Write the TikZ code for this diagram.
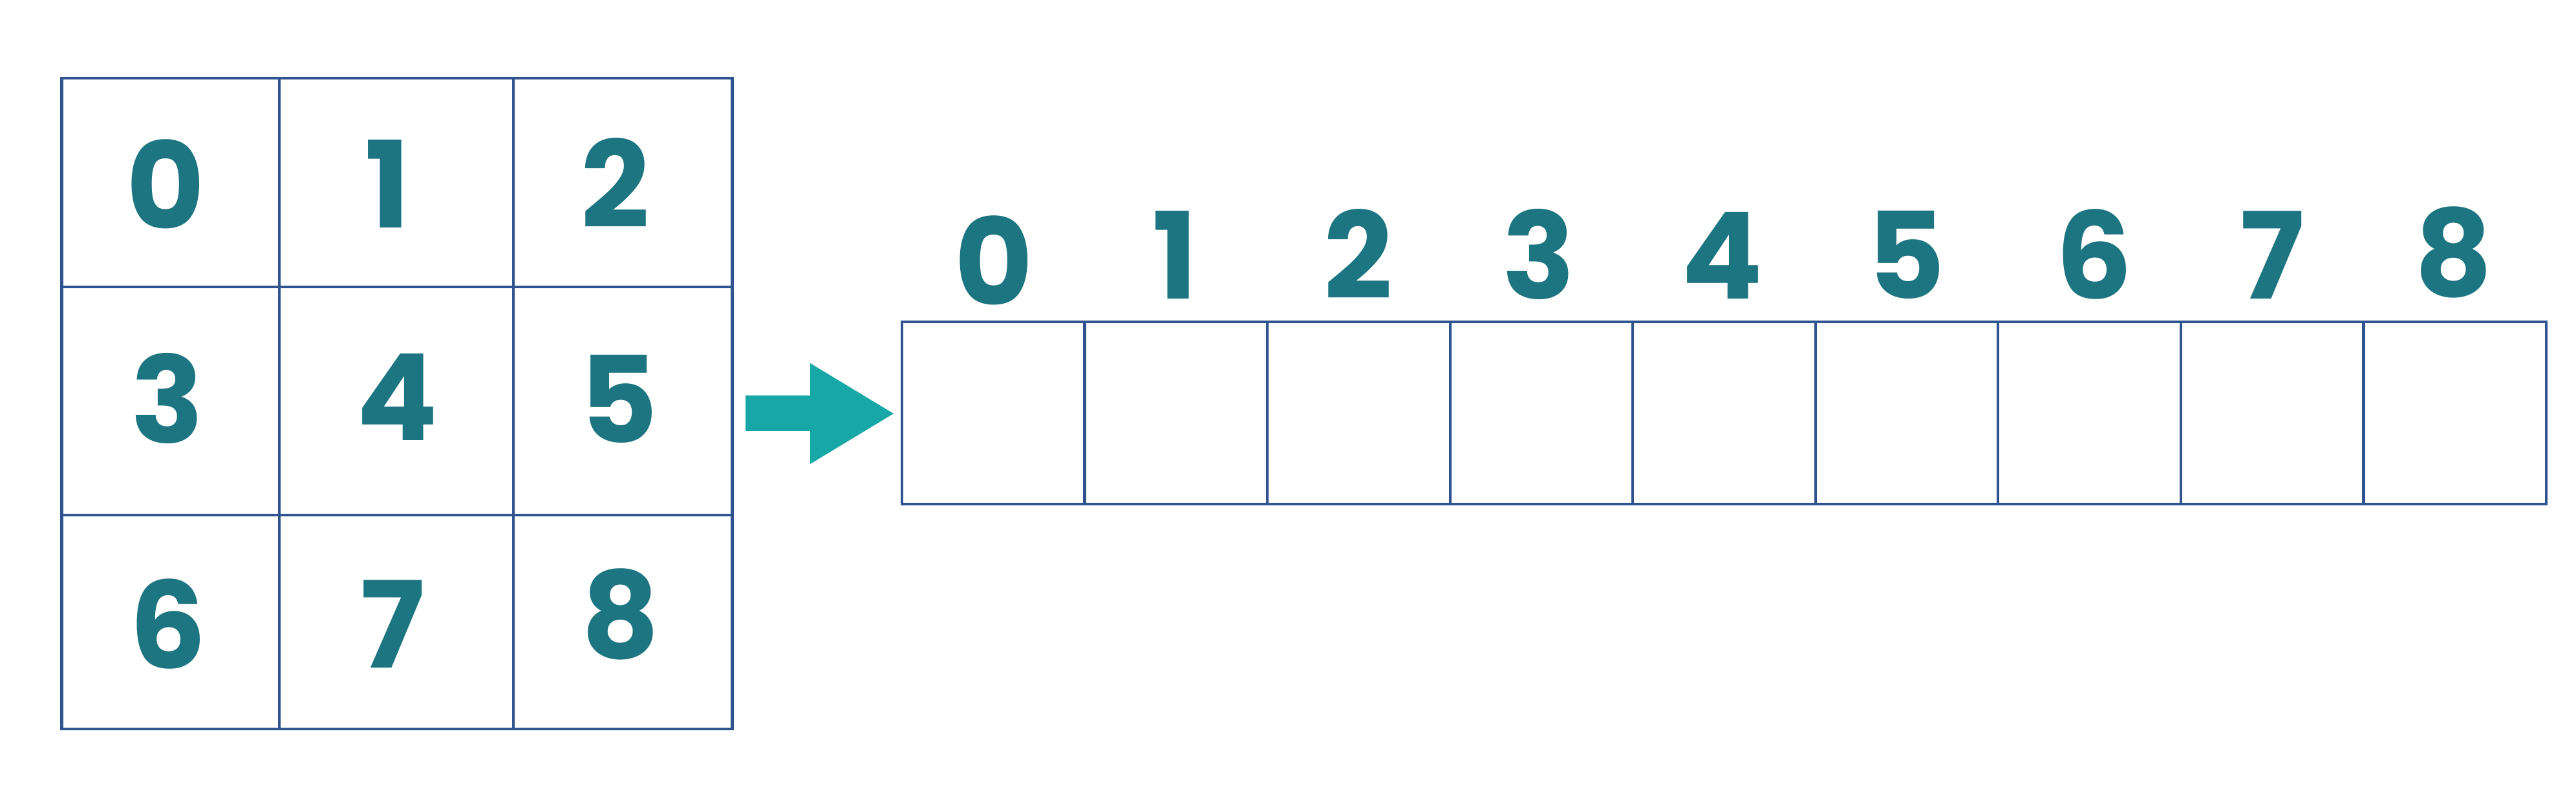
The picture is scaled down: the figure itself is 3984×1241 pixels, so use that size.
\documentclass[tikz,border=0pt]{standalone}
\usepackage{fontspec}
\setmainfont{Poppins}
\usetikzlibrary{fit}
\definecolor{gridblue}{HTML}{2F548F}
\definecolor{digitteal}{HTML}{1E7582}
\definecolor{arrowteal}{HTML}{17A7A7}
\tikzset{
  cell/.style={draw=gridblue, line width=0.42mm, inner sep=0pt, outer sep=0pt},
  digit/.style={text=digitteal, font=\fontsize{53}{53}\selectfont\bfseries, inner sep=0pt, anchor=base},
}
\begin{document}
\begin{tikzpicture}[x=0.1mm, y=-0.1mm]
\useasboundingbox (0,0) rectangle (3984,1241);
% left 3x3 grid
\node[cell, fit={(95.5,121) (432,443.7)}] (g0) {};
\node[cell, fit={(432,121) (793.7,443.7)}] (g1) {};
\node[cell, fit={(793.7,121) (1132.5,443.7)}] (g2) {};
\node[cell, fit={(95.5,443.7) (432,796.7)}] (g3) {};
\node[cell, fit={(432,443.7) (793.7,796.7)}] (g4) {};
\node[cell, fit={(793.7,443.7) (1132.5,796.7)}] (g5) {};
\node[cell, fit={(95.5,796.7) (432,1128.3)}] (g6) {};
\node[cell, fit={(432,796.7) (793.7,1128.3)}] (g7) {};
\node[cell, fit={(793.7,796.7) (1132.5,1128.3)}] (g8) {};
% grid digits
\node[digit] (n0) at (256,355) {0};
\node[digit] (n1) at (600,353) {1};
\node[digit] (n2) at (952,353) {2};
\node[digit] (n3) at (259,686) {3};
\node[digit] (n4) at (615,682) {4};
\node[digit] (n5) at (957,686) {5};
\node[digit] (n6) at (260,1035) {6};
\node[digit] (n7) at (607,1034) {7};
\node[digit] (n8) at (960,1019) {8};
% right 1x9 array
\foreach \k in {0,...,8}{
  \pgfmathsetmacro{\xl}{1395+\k*282.56}
  \pgfmathsetmacro{\xr}{1395+(\k+1)*282.56}
  \node[cell, fit={(\xl,498) (\xr,780)}] (a\k) {};
}
% array digits
\node[digit] (m0) at (1537,473) {0};
\node[digit] (m1) at (1818,463) {1};
\node[digit] (m2) at (2101,463) {2};
\node[digit] (m3) at (2380,463) {3};
\node[digit] (m4) at (2664,463) {4};
\node[digit] (m5) at (2948,463) {5};
\node[digit] (m6) at (3239,463) {6};
\node[digit] (m7) at (3514,463) {7};
\node[digit] (m8) at (3795,459) {8};
% block arrow
\coordinate (arrowtail) at (1153,640);
\coordinate (arrowtip) at (1382,640);
\fill[arrowteal] (1153,612) -- (1253,612) -- (1253,562) -- (arrowtip) -- (1253,718) -- (1253,667) -- (1153,667) -- cycle;
\end{tikzpicture}
\end{document}
